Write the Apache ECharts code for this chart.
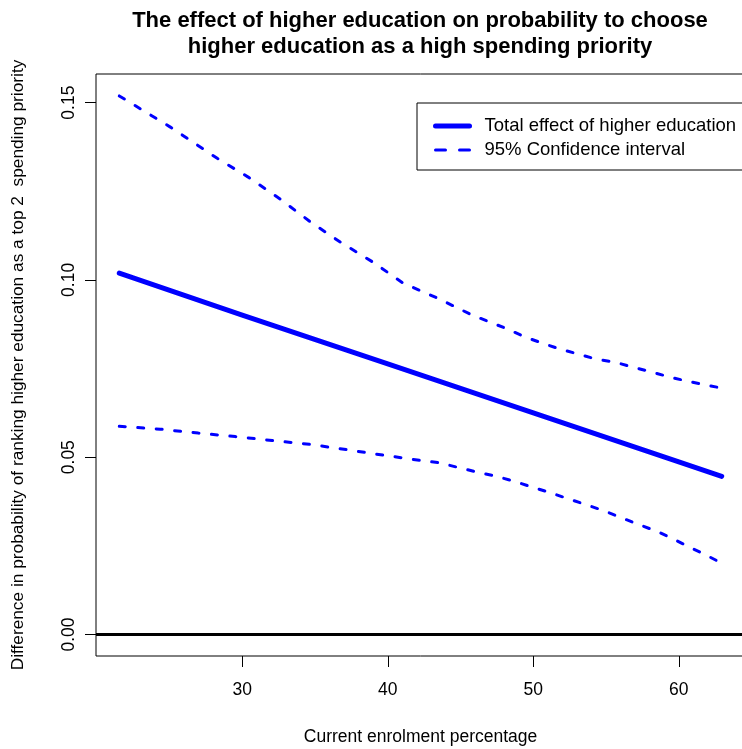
<!DOCTYPE html>
<html>
<head>
<meta charset="utf-8">
<script src="https://cdn.jsdelivr.net/npm/echarts@6/dist/echarts.min.js"></script>
<style>
  html, body { margin: 0; padding: 0; background: #fff; overflow: hidden; }
  #chart { width: 760px; height: 749px; }
</style>
</head>
<body>
<div id="chart"></div>
<script>
// Total effect of higher education (straight fitted line)
const effectX = [21.55, 30, 40, 50, 60, 62.95];
const effectY = [0.1019, 0.0901, 0.0763, 0.0625, 0.0487, 0.0446];

// Upper bound of the 95% confidence interval
const upperX = [21.55, 25.06, 28.28, 30.41, 32.61, 34.67, 36.73, 38.99, 41.05, 43.39, 45.79,
  48.19, 49.43, 50.59, 51.83, 53.07, 54.37, 55.61, 56.84, 58.15, 59.38, 60.62, 61.92, 62.95];
const upperY = [0.1519, 0.1431, 0.1343, 0.1290, 0.1228, 0.1164, 0.1107, 0.1050, 0.0991, 0.0949, 0.0901,
  0.0862, 0.0839, 0.0822, 0.0805, 0.0791, 0.0776, 0.0768, 0.0754, 0.0740, 0.0726, 0.0714, 0.0703, 0.0695];

// Lower bound of the 95% confidence interval
const lowerX = [21.55, 24.37, 26.98, 29.52, 32.06, 34.67, 37.21, 39.82, 42.22, 43.59, 44.83, 46.13, 47.37,
  48.60, 49.91, 51.14, 52.38, 53.55, 54.78, 55.95, 57.18, 58.49, 59.59, 60.75, 61.92, 62.95];
const lowerY = [0.0587, 0.0579, 0.0568, 0.0558, 0.0547, 0.0536, 0.0521, 0.0505, 0.0491, 0.0484, 0.0471, 0.0458, 0.0447,
  0.0433, 0.0416, 0.0400, 0.0383, 0.0367, 0.0350, 0.0331, 0.0311, 0.0291, 0.0270, 0.0246, 0.0223, 0.0201];

const xTicks = [30, 40, 50, 60];
const yTicks = [0, 0.05, 0.10, 0.15];

const titleLines = ['The effect of higher education on probability to choose',
  'higher education as a high spending priority'];
const xName = 'Current enrolment percentage';
const yName = 'Difference in probability of ranking higher education as a top 2  spending priority';
const effectName = 'Total effect of higher education';
const ciName = '95% Confidence interval';

const zip = (xs, ys) => xs.map((x, i) => [x, ys[i]]);

const FONT = 'Liberation Sans, Arial, Helvetica, sans-serif';
const BLUE = '#0000ff';

const chart = echarts.init(document.getElementById('chart'), null, { renderer: 'canvas' });

chart.setOption({
  animation: false,
  textStyle: { fontFamily: FONT },
  graphic: [{
    type: 'text',
    x: 420,
    y: 8,
    style: {
      text: titleLines.join('\n'),
      textAlign: 'center',
      fontFamily: FONT,
      fontWeight: 'bold',
      fontSize: 22,
      lineHeight: 26,
      fill: '#000'
    }
  }],
  grid: {
    left: 96, right: 15, top: 74, bottom: 93,
    outerBoundsMode: 'none',
    containLabel: false,
    show: true, borderColor: '#000', borderWidth: 1, backgroundColor: 'transparent'
  },
  legend: {
    left: 417, top: 103,
    orient: 'vertical',
    data: [
      { name: effectName, lineStyle: { width: 5, type: 'solid', cap: 'round' } },
      { name: ciName, lineStyle: { width: 3, type: [10, 14], cap: 'round' } }
    ],
    itemWidth: 34, itemHeight: 14, itemGap: 4,
    itemStyle: { opacity: 0 },
    padding: [13, 8, 10, 16],
    borderColor: '#000', borderWidth: 1, borderRadius: 0,
    textStyle: { fontFamily: FONT, fontSize: 18.5, lineHeight: 20, color: '#000', padding: [0, 0, 0, 10] }
  },
  xAxis: {
    type: 'value', min: 19.95, max: 64.55,
    name: xName, nameLocation: 'middle', nameGap: 72, nameMoveOverlap: false,
    nameTextStyle: { fontFamily: FONT, fontSize: 17.5, color: '#000' },
    axisLine: { show: false, onZero: false },
    axisTick: { show: true, inside: false, length: 11, customValues: xTicks, lineStyle: { color: '#000', width: 1 } },
    axisLabel: { customValues: xTicks, margin: 25, fontFamily: FONT, fontSize: 17.5, color: '#000' },
    splitLine: { show: false }
  },
  yAxis: {
    type: 'value', min: -0.00608, max: 0.15808,
    name: yName, nameLocation: 'middle', nameGap: 69, nameMoveOverlap: false,
    nameTextStyle: { fontFamily: FONT, fontSize: 17.3, color: '#000' },
    axisLine: { show: false, onZero: false },
    axisTick: { show: true, inside: false, length: 11, customValues: yTicks, lineStyle: { color: '#000', width: 1 } },
    axisLabel: {
      customValues: yTicks, rotate: 90, margin: 18,
      fontFamily: FONT, fontSize: 17.5, color: '#000',
      formatter: v => v.toFixed(2)
    },
    splitLine: { show: false }
  },
  series: [
    {
      name: effectName, type: 'line', data: zip(effectX, effectY),
      symbol: 'none', z: 3,
      lineStyle: { color: BLUE, width: 5, cap: 'round', join: 'round' },
      itemStyle: { color: BLUE },
      markLine: {
        silent: true, symbol: 'none', label: { show: false },
        lineStyle: { color: '#000', width: 3, type: 'solid' },
        data: [{ yAxis: 0 }]
      }
    },
    {
      name: ciName, type: 'line', data: zip(upperX, upperY),
      symbol: 'none',
      lineStyle: { color: BLUE, width: 3, type: [6, 12.5], cap: 'round' },
      itemStyle: { color: BLUE }
    },
    {
      name: ciName, type: 'line', data: zip(lowerX, lowerY),
      symbol: 'none',
      lineStyle: { color: BLUE, width: 3, type: [6, 12.5], cap: 'round' },
      itemStyle: { color: BLUE }
    }
  ]
});
</script>
</body>
</html>
